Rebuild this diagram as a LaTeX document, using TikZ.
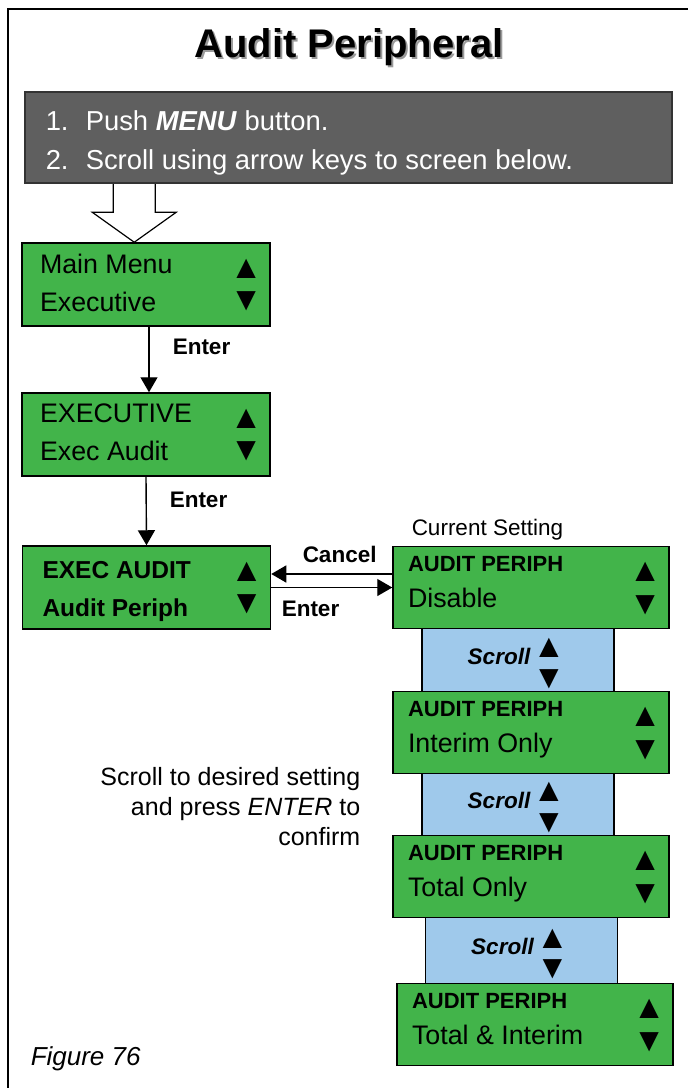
\documentclass[tikz,border=0pt]{standalone}
\usepackage{fontspec}
\setmainfont{Liberation Sans}
\usetikzlibrary{arrows.meta, calc}
\definecolor{lcdgreen}{HTML}{42B44A}
\definecolor{scrollblue}{HTML}{9FC9EB}
\definecolor{panelgrey}{HTML}{5F5F5F}
\definecolor{shadowgrey}{HTML}{9A9A9A}
\tikzset{
  every picture/.style={x=1pt, y=-1pt, line width=1.5pt},
  screen/.style={draw, fill=lcdgreen, inner sep=0pt, minimum width=#1, minimum height=83pt},
  screen/.default=248pt,
  scrollbox/.style={draw, fill=scrollblue, line width=1.2pt, inner sep=0pt, minimum width=192pt, minimum height=#1},
  lcd/.style={anchor=base west, inner sep=0pt, font=\fontsize{26.8}{30}\selectfont},
  lcdhead/.style={anchor=base west, inner sep=0pt, font=\bfseries\fontsize{22}{26}\selectfont},
  lcdbold/.style={anchor=base west, inner sep=0pt, font=\bfseries\fontsize{24.5}{28}\selectfont},
  updown/.style={inner sep=0pt, font=\fontsize{33}{35}\selectfont},
  key/.style={anchor=base west, inner sep=0pt, font=\bfseries\fontsize{22.5}{26}\selectfont},
  scrolltext/.style={anchor=base, inner sep=0pt, font=\bfseries\itshape\fontsize{22.5}{26}\selectfont},
  steptext/.style={anchor=base west, inner sep=0pt, text=white, font=\fontsize{27.4}{32}\selectfont},
  title/.style={anchor=base, inner sep=0pt, font=\bfseries\fontsize{40}{46}\selectfont},
  note/.style={inner sep=0pt, font=\fontsize{25}{30}\selectfont},
  arrow/.style={-{Triangle[length=15pt, width=17pt]}, line width=1.4pt},
}

\begin{document}
\begin{tikzpicture}
  \useasboundingbox (0,0) rectangle (688,1088);
  \draw[line width=2pt] (688,9) -- (8,9) -- (8,1088);
  % title
  \node[title, text=shadowgrey] (titleshadow) at (351,59) {Audit Peripheral};
  \node[title] (title) at (349,57) {Audit Peripheral};
  % main menu path
  \node[screen] (b1) at (146,284.5) {};
  \node[lcd] (b1a) at ($(b1.north west)+(18,31)$) {Main Menu};
  \node[lcd] (b1b) at ($(b1.north west)+(18,69)$) {Executive};
  \node[screen] (b2) at (146,434.5) {};
  \node[lcd] (b2a) at ($(b2.north west)+(18,30)$) {EXECUTIVE};
  \node[lcd] (b2b) at ($(b2.north west)+(18,68)$) {Exec Audit};
  \node[screen] (b3) at (146.5,587.5) {};
  \node[lcdbold] (b3a) at ($(b3.north west)+(20,33)$) {EXEC AUDIT};
  \node[lcdbold] (b3b) at ($(b3.north west)+(20,71)$) {Audit Periph};
  \foreach \b in {b1, b2, b3} {
    \node[updown] (\b u) at ($(\b.north east)+(-24.5,27)$) {▲};
    \node[updown] (\b d) at ($(\b.north east)+(-24.5,59.5)$) {▼};
  }
  \draw[fill=white, line width=1.2pt] ($(b1.north west)+(113,0)$) -- ++(-42,-30) -- ++(21,0) -- ++(0,-30) -- ++(42,0) -- ++(0,30) -- ++(21,0) -- cycle;
  \node[draw=black!80, fill=panelgrey, minimum width=647pt, minimum height=91pt, inner sep=0pt] (steps) at (348.5,137.5) {};
  \node[steptext] (n1) at (45,130) {1.};
  \node[steptext] (t1) at (85,130) {Push \textbf{\textit{MENU}} button.};
  \node[steptext] (n2) at (45,169) {2.};
  \node[steptext] (t2) at (85,169) {Scroll using arrow keys to screen below.};
  \draw[arrow] ([xshift=3pt]b1.south) -- ([xshift=3pt]b2.north);
  \node[key] (enter1) at (172,354) {Enter};
  \draw[arrow] (b2.south) -- (b3.north);
  \node[key] (enter2) at (169,507) {Enter};
  % settings
  \foreach \i/\x/\y/\h in {1/518/660/66, 2/518/804/64, 3/521.5/950.5/67} {
    \node[scrollbox=\h pt] (s\i) at (\x,\y) {};
    \node[scrolltext] (st\i) at ($(s\i.center)+(-19,4)$) {Scroll};
    \node[updown] (su\i) at ($(s\i.center)+(31,-12)$) {▲};
    \node[updown] (sd\i) at ($(s\i.center)+(31,19)$) {▼};
  }
  \foreach \i/\x/\y/\val in {1/531/587.5/Disable, 2/531/732.5/Interim Only, 3/531/876.5/Total Only, 4/535/1024.5/Total \& Interim} {
    \node[screen=276pt, minimum height=82pt] (r\i) at (\x,\y) {};
    \node[lcdhead] (rt\i) at ($(r\i.north west)+(15,26)$) {AUDIT PERIPH};
    \node[lcd] (rv\i) at ($(r\i.north west)+(15,62)$) {\val};
    \node[updown] (ru\i) at ($(r\i.north east)+(-24.5,26.5)$) {▲};
    \node[updown] (rd\i) at ($(r\i.north east)+(-24.5,59.5)$) {▼};
  }
  \node[anchor=base west, inner sep=0pt, font=\fontsize{22.5}{26}\selectfont] (current) at (411,535) {Current Setting};
  \draw[arrow] ([yshift=13.5pt]r1.west) -- ([yshift=13.5pt]b3.east);
  \draw[arrow] (b3.east) -- (r1.west);
  \node[key] (cancel) at (302,562) {Cancel};
  \node[key] (enter3) at (281,616) {Enter};
  \node[note, align=right, anchor=base east] (hint) at (361,845) {Scroll to desired setting\\and press \textit{ENTER} to\\confirm};
  \node[note, anchor=base west, font=\itshape\fontsize{26}{30}\selectfont] (fig) at (30,1065) {Figure 76};
\end{tikzpicture}
\end{document}
